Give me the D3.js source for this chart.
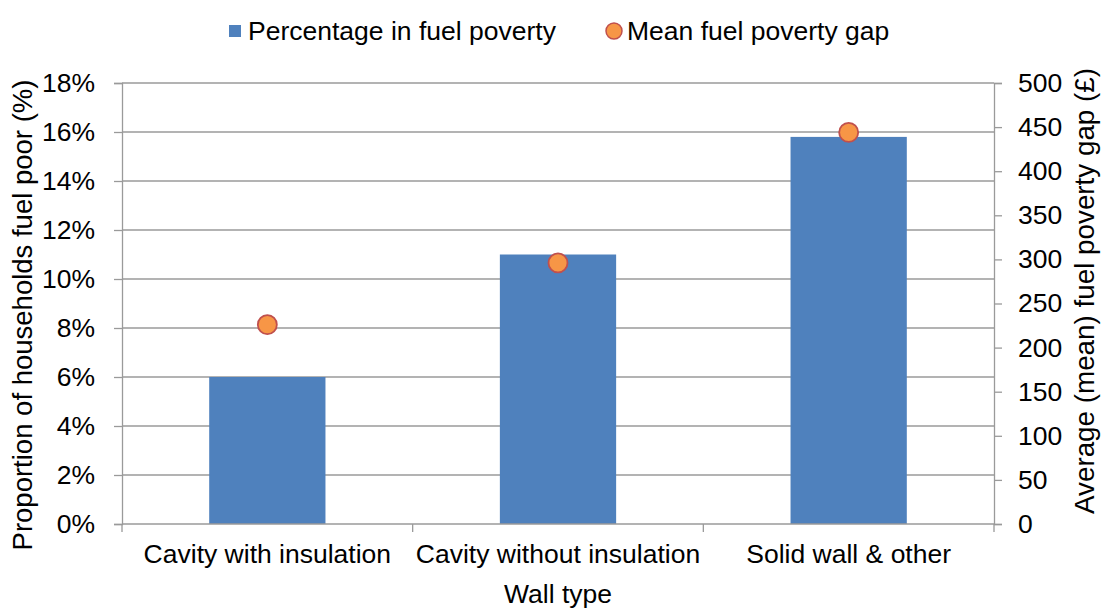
<!DOCTYPE html>
<html><head><meta charset="utf-8">
<script src="https://cdn.jsdelivr.net/npm/d3@7"></script>
<style>body{margin:0;background:#fff;}svg{display:block;font-family:"Liberation Sans",Arial,sans-serif;}</style>
</head><body><svg id="c" width="1103" height="608"></svg>
<script>
const categories = ["Cavity with insulation", "Cavity without insulation", "Solid wall & other"];
const pctFuelPoor = [0.06, 0.11, 0.158];
const meanGap = [226, 296, 444];
const leftTicks = [0, 0.02, 0.04, 0.06, 0.08, 0.10, 0.12, 0.14, 0.16, 0.18];
const rightTicks = [0, 50, 100, 150, 200, 250, 300, 350, 400, 450, 500];

const svg = d3.select("#c");
const L = 122, R = 994, T = 83, B = 524;
const FS = 26.5;
const x = d3.scaleBand().domain(categories).range([L, R]).paddingInner(0.6).paddingOuter(0.3);
const xb = d3.scaleBand().domain(categories).range([L, R]);
const yL = d3.scaleLinear().domain([0, 0.18]).range([B, T]);
const yR = d3.scaleLinear().domain([0, 500]).range([B, T]);
const grid = "#9a9a9a";

// gridlines
svg.append("g").selectAll("line").data(leftTicks.slice(1)).join("line")
  .attr("x1", L).attr("x2", R).attr("y1", d => yL(d)).attr("y2", d => yL(d))
  .attr("stroke", grid).attr("stroke-width", 1.3);

// bars
svg.append("g").selectAll("rect").data(categories).join("rect")
  .attr("x", d => x(d)).attr("width", x.bandwidth())
  .attr("y", (d, i) => yL(pctFuelPoor[i])).attr("height", (d, i) => B - yL(pctFuelPoor[i]))
  .attr("fill", "#4F81BD");

// axes
const fmt = d3.format(".0%");
const gL = svg.append("g").attr("transform", `translate(${L},0)`)
  .call(d3.axisLeft(yL).tickValues(leftTicks).tickFormat(fmt).tickSize(8).tickPadding(19));
const gR = svg.append("g").attr("transform", `translate(${R},0)`)
  .call(d3.axisRight(yR).tickValues(rightTicks).tickSize(8).tickPadding(16));
const gX = svg.append("g").attr("transform", `translate(0,${B})`)
  .call(d3.axisBottom(xb).tickSize(0).tickPadding(20));
// category boundary ticks
svg.append("g").selectAll("line").data([0, 1, 2, 3]).join("line")
  .attr("x1", i => L + i * xb.step()).attr("x2", i => L + i * xb.step())
  .attr("y1", B).attr("y2", B + 8).attr("stroke", grid).attr("stroke-width", 1.3);

[gL, gR, gX].forEach(g => {
  g.selectAll(".domain").attr("stroke", grid).attr("stroke-width", 1.3);
  g.selectAll(".tick line").attr("stroke", grid).attr("stroke-width", 1.3);
  g.selectAll("text").attr("font-size", FS).attr("fill", "#000")
    .style("font-family", '"Liberation Sans", Arial, sans-serif');
});
gX.selectAll(".domain").attr("d", `M${L},0H${R}`);

// dots
svg.append("g").selectAll("circle").data(categories).join("circle")
  .attr("cx", d => x(d) + x.bandwidth() / 2).attr("cy", (d, i) => yR(meanGap[i]))
  .attr("r", 9.5).attr("fill", "#F79646").attr("stroke", "#C0504D").attr("stroke-width", 1.8);

// axis titles
svg.append("text").attr("transform", `translate(32,315) rotate(-90)`)
  .attr("text-anchor", "middle").attr("font-size", 27.5).text("Proportion of households fuel poor (%)");
svg.append("text").attr("transform", `translate(1094,291) rotate(-90)`)
  .attr("text-anchor", "middle").attr("font-size", 27.8).text("Average (mean) fuel poverty gap (£)");
svg.append("text").attr("x", 558).attr("y", 603)
  .attr("text-anchor", "middle").attr("font-size", FS).text("Wall type");

// legend
const lg = svg.append("g");
lg.append("rect").attr("x", 229).attr("y", 25).attr("width", 12).attr("height", 12).attr("fill", "#4F81BD");
lg.append("text").attr("x", 248).attr("y", 40).attr("font-size", FS).text("Percentage in fuel poverty");
lg.append("circle").attr("cx", 614).attr("cy", 31).attr("r", 8)
  .attr("fill", "#F79646").attr("stroke", "#C0504D").attr("stroke-width", 1.5);
lg.append("text").attr("x", 627).attr("y", 40).attr("font-size", FS).text("Mean fuel poverty gap");
</script></body></html>
